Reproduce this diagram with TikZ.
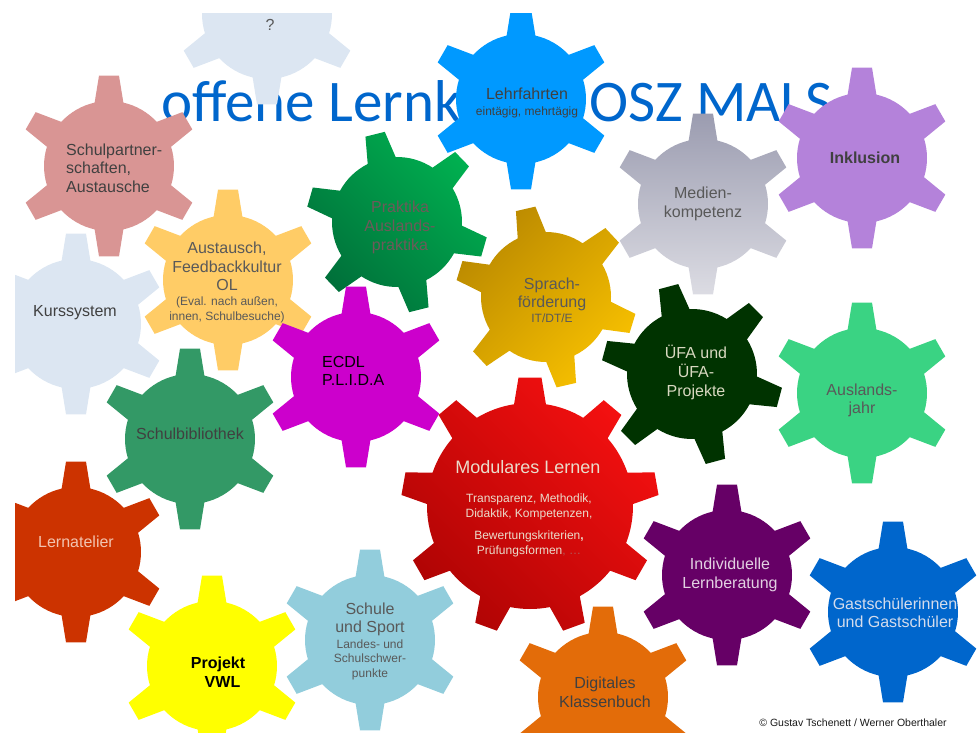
\documentclass[tikz,border=0pt]{standalone}
\usepackage{fontspec}
\setmainfont{Liberation Sans}
\newfontfamily\titlefont{Carlito}
\definecolor{titleblue}{HTML}{0066CC}
\definecolor{gA}{HTML}{404040}
\definecolor{gB}{HTML}{595959}
\definecolor{cQ}{HTML}{DCE6F2}
\definecolor{cLehr}{HTML}{0099FF}
\definecolor{cMedTop}{HTML}{9B9CB0}
\definecolor{cMedBot}{HTML}{DCDCE3}
\definecolor{cInk}{HTML}{B482DA}
\definecolor{cSchulp}{HTML}{D99594}
\definecolor{cAust}{HTML}{FFCC66}
\definecolor{cPrakA}{HTML}{00B050}
\definecolor{cPrakB}{HTML}{00703A}
\definecolor{cSprA}{HTML}{BB8A00}
\definecolor{cSprB}{HTML}{F7C000}
\definecolor{cEcdl}{HTML}{CC00CC}
\definecolor{cBib}{HTML}{339966}
\definecolor{cUfa}{HTML}{003300}
\definecolor{cAusl}{HTML}{3AD383}
\definecolor{cModA}{HTML}{F41010}
\definecolor{cModB}{HTML}{B00404}
\definecolor{cLern}{HTML}{CC3300}
\definecolor{cProj}{HTML}{FFFF00}
\definecolor{cSport}{HTML}{92CDDC}
\definecolor{cDig}{HTML}{E36C09}
\definecolor{cInd}{HTML}{660066}
\definecolor{cGast}{HTML}{0066CC}
\definecolor{tPrak}{HTML}{6E5A5A}
\definecolor{tUfa}{HTML}{D8D8C0}
\definecolor{tMod}{HTML}{EADCCB}
\definecolor{tModDim}{HTML}{B05A5A}
\definecolor{tLern}{HTML}{F2C4B0}
\definecolor{tInd}{HTML}{E2D0E2}
\definecolor{tGast}{HTML}{D4DCEC}
\newcommand\gearat[8]{%
  \pgfmathsetmacro\gAb{deg(#6/#3)}%
  \pgfmathsetmacro\gAt{deg(#7/#4)}%
  \pgfmathsetmacro\gSt{360/#2}%
  \pgfmathtruncatemacro\gLast{#2-1}%
  \path[shift={#1},#8] ({#5+90-\gAb}:#3)
    \foreach \gi in {0,...,\gLast}{
      -- ({#5+90+\gi*\gSt-\gAt}:#4) -- ({#5+90+\gi*\gSt+\gAt}:#4)
      -- ({#5+90+\gi*\gSt+\gAb}:#3)
      arc[start angle={#5+90+\gi*\gSt+\gAb}, end angle={#5+90+(\gi+1)*\gSt-\gAb}, radius=#3]
    } -- cycle;%
}
\newcommand\sixgear[3]{\gearat{#1}{6}{65}{91}{#2}{14.5}{10}{#3}}
\tikzset{
  lbl/.style={font=\fontsize{16}{18.7}\selectfont, align=center, inner sep=0pt},
  lblb/.style={font=\fontsize{16}{19.5}\selectfont\bfseries, align=center, inner sep=0pt},
  sml/.style={font=\fontsize{12}{14.5}\selectfont, align=center, inner sep=0pt},
}
\begin{document}
\begin{tikzpicture}[x=1pt,y=-1pt]
\useasboundingbox (0,0) rectangle (977,733);
\begin{scope}
\clip (15,14) rectangle (977,733);
% title (behind gears)
\node[anchor=base west, inner sep=0pt, font=\titlefont\fontsize{59}{59}\selectfont, text=titleblue] (title) at (161,122) {offene Lernkultur OSZ MALS};
% gears
\sixgear{(267,14)}{0}{fill=cQ}
\sixgear{(521,99)}{0}{fill=cLehr}
\sixgear{(703,204)}{0}{top color=cMedTop, bottom color=cMedBot}
\sixgear{(862,158)}{0}{fill=cInk}
\sixgear{(109,166)}{0}{fill=cSchulp}
\sixgear{(228,280)}{0}{fill=cAust}
\sixgear{(76,324)}{0}{fill=cQ}
\sixgear{(397,222)}{-14}{top color=cPrakA, bottom color=cPrakB, shading angle=-45}
\sixgear{(546,297)}{-13}{top color=cSprA, bottom color=cSprB, shading angle=45}
\sixgear{(356,377)}{0}{fill=cEcdl}
\sixgear{(190,439)}{0}{fill=cBib}
\sixgear{(692,374)}{-15}{fill=cUfa}
\sixgear{(862,393)}{0}{fill=cAusl}
\sixgear{(370,640)}{0}{fill=cSport}
\gearat{(530,506)}{9}{103}{129}{180}{16}{11.5}{top color=cModA, bottom color=cModB, shading angle=-45}
\sixgear{(76,552)}{0}{fill=cLern}
\sixgear{(212,666)}{0}{fill=cProj}
\sixgear{(603,697)}{0}{fill=cDig}
\sixgear{(727,575)}{0}{fill=cInd}
\sixgear{(893,612)}{0}{fill=cGast}
% labels
\node[lbl, text=gB] (tq) at (270,25) {?};
\node[lbl, text=gA] (tlehr) at (527,94) {Lehrfahrten};
\node[sml, text=gA] (tlehr2) at (527,112.5) {eintägig, mehrtägig};
\node[lbl, text=gA, align=left, anchor=west] (tschulp) at (66,168) {Schulpartner-\\schaften,\\Austausche};
\node[lbl, text=gB] (tmed) at (703,204) {Medien-\\kompetenz};
\node[lblb, text=gA] (tink) at (865,158) {Inklusion};
\node[lbl, text=gB] (taust) at (227,266.5) {Austausch,\\Feedbackkultur\\OL};
\node[sml, text=gB] (taust2) at (227,310) {(Eval. nach außen,\\innen, Schulbesuche)};
\node[lbl, text=gA] (tkurs) at (75,313) {Kurssystem};
\node[lbl, text=tPrak] (tprak) at (400,227.5) {Praktika\\Auslands-\\praktika};
\node[lbl, text=gB] (tspr) at (552,294.5) {Sprach-\\förderung};
\node[sml, text=gB] (tspr2) at (552,318) {IT/DT/E};
\node[lbl, text=black, align=left, anchor=west] (tecdl) at (322,371) {ECDL\\P.L.I.D.A};
\node[lbl, text=gA] (tbib) at (190,434) {Schulbibliothek};
\node[lbl, text=tUfa] (tufa) at (696,372.5) {ÜFA und\\ÜFA-\\Projekte};
\node[lbl, text=gB] (tausl) at (862,400.5) {Auslands-\\jahr};
\node[inner sep=0pt, font=\fontsize{18}{21}\selectfont, text=tMod] (tmod) at (528,467) {Modulares Lernen};
\node[sml, text=tMod] (tmod2) at (529,507) {Transparenz, Methodik,\\Didaktik, Kompetenzen,};
\node[sml, text=tMod] (tmod3) at (529,544) {Bewertungskriterien\textbf{,}\\Prüfungsformen{\color{tModDim}, …}};
\node[lbl, text=tLern] (tlern) at (76,542) {Lernatelier};
\node[lblb, text=black] (tproj) at (218,672) {Projekt\\\hspace*{9pt}VWL};
\node[lbl, text=gB] (tsport) at (370,619.5) {Schule\\und Sport};
\node[sml, text=gB] (tsport2) at (370,659.8) {Landes- und\\Schulschwer-\\punkte};
\node[lbl, text=gA] (tdig) at (605,692.5) {Digitales\\Klassenbuch};
\node[lbl, text=tInd] (tind) at (730,575) {Individuelle\\Lernberatung};
\node[lbl, text=tGast] (tgast) at (895,612.7) {Gastschülerinnen\\und Gastschüler};
\node[inner sep=0pt, font=\fontsize{10.5}{12}\selectfont, text=black!90] (copy) at (853,723) {© Gustav Tschenett / Werner Oberthaler};
\end{scope}
\end{tikzpicture}
\end{document}
